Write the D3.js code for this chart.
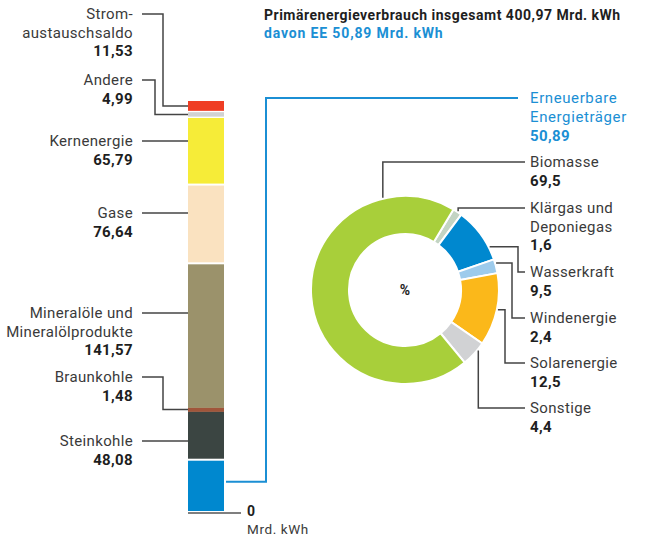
<!DOCTYPE html>
<html><head><meta charset="utf-8">
<script src="https://cdn.jsdelivr.net/npm/d3@7"></script>
<style>
html,body{margin:0;padding:0;background:#fff;}
svg{display:block;font-family:Roboto,"Noto Sans",sans-serif;}
</style></head><body>
<svg id="c" width="645" height="537"></svg>
<script>
// ---------- data ----------
const barCategories = ["Erneuerbare Energieträger","Steinkohle","Braunkohle","Mineralöle und Mineralölprodukte","Gase","Kernenergie","Andere","Stromaustauschsaldo"];
const barValues = [50.89, 48.08, 1.48, 141.57, 76.64, 65.79, 4.99, 11.53];
const barValueLabels = ["50,89","48,08","1,48","141,57","76,64","65,79","4,99","11,53"];
const barTotal = 400.97;
const donutCategories = ["Klärgas und Deponiegas","Wasserkraft","Windenergie","Solarenergie","Sonstige","Biomasse"];
const donutValues = [1.6, 9.5, 2.4, 12.5, 4.4, 69.5];
const donutValueLabels = ["1,6","9,5","2,4","12,5","4,4","69,5"];
const titleText = "Primärenergieverbrauch insgesamt 400,97 Mrd. kWh";
const subtitleText = "davon EE 50,89 Mrd. kWh";
const axisTickLabels = ["0"];
const unitLabel = "Mrd. kWh";

// ---------- styles/layout ----------
const barColors = ["#0088cf","#3b4542","#a0553a","#9b926b","#fae2c0","#f6ec38","#d2d2d2","#ef3e24"];
const donutColors = ["#c3d4c3","#0088cf","#9dcbec","#fbb81a","#d1d2d4","#a8cf3a"];
const textCol = "#3a3a3a", boldCol = "#1e1e1e", lineCol = "#444", blue = "#1b8fd4";
const FS = 15, LS = 0.35;

const svg = d3.select("#c");
const barX = 188, barW = 36;
const y = d3.scaleLinear().domain([0, barTotal]).range([512, 100]);

// stacked bar
let cum = 0;
const segs = barValues.map((v,i)=>{const s={i,v,y0:cum,y1:cum+v};cum+=v;return s;});
const segH = d=>Math.max(y(d.y0)-y(d.y1)-2,4.5);
svg.append("g").selectAll("rect").data(segs).join("rect")
  .attr("x", barX).attr("width", barW)
  .attr("y", d=>(y(d.y0)+y(d.y1))/2 - segH(d)/2)
  .attr("height", segH)
  .attr("fill", d=>barColors[d.i]);

// axis baseline + label
svg.append("line").attr("x1",barX).attr("x2",241).attr("y1",y(0)+1).attr("y2",y(0)+1)
  .attr("stroke","#555").attr("stroke-width",1.6);
svg.append("text").attr("x",247).attr("y",516).attr("font-weight",700).attr("font-size",14).attr("fill",boldCol).text(axisTickLabels[0]);
svg.append("text").attr("x",247).attr("y",533.5).attr("font-size",13.5).attr("letter-spacing",0.6).attr("fill",textCol).text(unitLabel);

// left labels (index into bar arrays)
const leftLabels = [
  {i:7, lines:["Strom-","austauschsaldo"], ly:19, elbow:163},
  {i:6, lines:["Andere"], ly:85, elbow:155},
  {i:5, lines:["Kernenergie"], ly:146},
  {i:4, lines:["Gase"], ly:218},
  {i:3, lines:["Mineralöle und","Mineralölprodukte"], ly:318},
  {i:2, lines:["Braunkohle"], ly:382, elbow:163},
  {i:1, lines:["Steinkohle"], ly:446}
];
const lh = 18.5, textRight = 133;
leftLabels.forEach(L=>{
  const g = svg.append("g");
  L.lines.forEach((t,k)=>g.append("text").attr("x",textRight).attr("y",L.ly+k*lh)
    .attr("text-anchor","end").attr("font-size",FS).attr("letter-spacing",LS).attr("fill",textCol).text(t));
  g.append("text").attr("x",textRight).attr("y",L.ly+L.lines.length*lh)
    .attr("text-anchor","end").attr("font-size",FS).attr("letter-spacing",LS).attr("font-weight",700).attr("fill",boldCol).text(barValueLabels[L.i]);
  const lineY = L.ly-5;
  let pts;
  if (L.elbow) {
    const s = segs[L.i]; const my = (y(s.y0)+y(s.y1))/2;
    pts = [[142,lineY],[L.elbow,lineY],[L.elbow,my],[barX,my]];
  } else pts = [[142,lineY],[barX,lineY]];
  g.append("path").attr("d",d3.line()(pts)).attr("fill","none").attr("stroke",lineCol).attr("stroke-width",1.5);
});

// blue connector from EE segment to label
{
  const s = segs[0]; const my = y(s.y0+s.v*0.58);
  svg.append("path").attr("d",d3.line()([[barX+barW+2,my],[266,my],[266,98],[518,98]]))
    .attr("fill","none").attr("stroke",blue).attr("stroke-width",2);
  ["Erneuerbare","Energieträger"].forEach((t,k)=>svg.append("text").attr("x",530).attr("y",103+k*19)
    .attr("font-size",FS).attr("letter-spacing",0.6).attr("fill",blue).text(t));
  svg.append("text").attr("x",530).attr("y",141).attr("font-size",FS).attr("letter-spacing",LS).attr("font-weight",700).attr("fill",blue).text(barValueLabels[0]);
}

// titles
svg.append("text").attr("x",264).attr("y",20).attr("font-size",14).attr("letter-spacing",0.5).attr("font-weight",700).attr("fill",boldCol).text(titleText);
svg.append("text").attr("x",264).attr("y",38).attr("font-size",14).attr("letter-spacing",0.85).attr("font-weight",700).attr("fill",blue).text(subtitleText);

// donut
const cx = 405, cy = 290, R = 94, r0 = 56;
const startDeg = 31;
const pie = d3.pie().sort(null).value(d=>d)
  .startAngle(startDeg*Math.PI/180).endAngle((startDeg+360)*Math.PI/180);
const arcs = pie(donutValues);
const arc = d3.arc().innerRadius(r0).outerRadius(R);
const dg = svg.append("g").attr("transform",`translate(${cx},${cy})`);
dg.selectAll("path").data(arcs).join("path").attr("d",arc)
  .attr("fill",(d,i)=>donutColors[i]).attr("stroke","#fff").attr("stroke-width",2);
svg.append("text").attr("x",cx).attr("y",cy+5).attr("text-anchor","middle")
  .attr("font-size",14).attr("font-weight",700).attr("fill",boldCol).text("%");

// donut labels
const donutLabels = [
  {i:5, lines:["Biomasse"], ly:167, angle:-13.5, type:"v"},
  {i:0, lines:["Klärgas und","Deponiegas"], ly:213, angle:34, type:"v"},
  {i:1, lines:["Wasserkraft"], ly:277, angle:63, type:"h", ex:518},
  {i:2, lines:["Windenergie"], ly:323, angle:73.5, type:"h", ex:512},
  {i:3, lines:["Solarenergie"], ly:368, angle:102, type:"h", ex:505},
  {i:4, lines:["Sonstige"], ly:413, angle:129.5, type:"v"}
];
const tx = 530;
donutLabels.forEach(L=>{
  const g = svg.append("g");
  L.lines.forEach((t,k)=>g.append("text").attr("x",tx).attr("y",L.ly+k*lh)
    .attr("font-size",FS).attr("letter-spacing",LS).attr("fill",textCol).text(t));
  g.append("text").attr("x",tx).attr("y",L.ly+L.lines.length*lh)
    .attr("font-size",FS).attr("letter-spacing",LS).attr("font-weight",700).attr("fill",boldCol).text(donutValueLabels[L.i]);
  const a = L.angle*Math.PI/180;
  const ax = cx + (R+1)*Math.sin(a), ay = cy - (R+1)*Math.cos(a);
  const lineY = L.ly-5;
  const pts = L.type==="v" ? [[ax,ay],[ax,lineY],[tx-5,lineY]]
                           : [[ax,ay],[L.ex,ay],[L.ex,lineY],[tx-5,lineY]];
  g.append("path").attr("d",d3.line()(pts)).attr("fill","none").attr("stroke",lineCol).attr("stroke-width",1.5);
});
</script>
</body></html>
